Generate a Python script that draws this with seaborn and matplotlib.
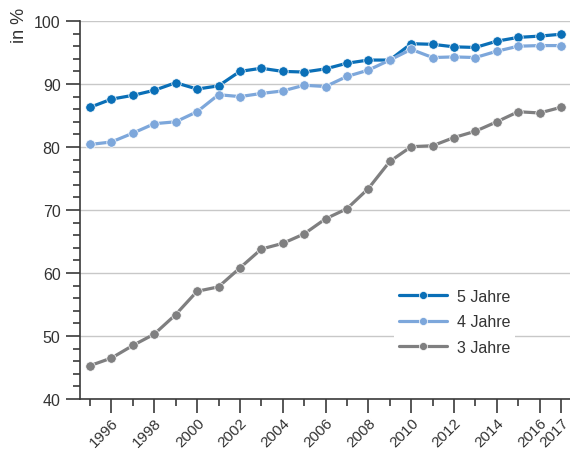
import matplotlib
matplotlib.use("Agg")
import matplotlib.pyplot as plt
import matplotlib.ticker as mticker
import seaborn as sns
import pandas as pd

years = list(range(1995, 2018))
jahre5 = [86.3, 87.6, 88.2, 89.0, 90.2, 89.2, 89.7, 92.0, 92.5, 92.0, 91.9, 92.4,
          93.3, 93.8, 93.8, 96.4, 96.3, 95.9, 95.8, 96.8, 97.4, 97.6, 97.9]
jahre4 = [80.4, 80.8, 82.2, 83.7, 84.0, 85.6, 88.3, 88.0, 88.5, 88.9, 89.8, 89.6,
          91.2, 92.2, 93.8, 95.5, 94.2, 94.3, 94.2, 95.2, 96.0, 96.1, 96.1]
jahre3 = [45.3, 46.5, 48.5, 50.3, 53.4, 57.1, 57.8, 60.8, 63.8, 64.7, 66.2, 68.6,
          70.2, 73.4, 77.7, 80.05, 80.2, 81.5, 82.5, 84.0, 85.6, 85.4, 86.3]
series_names = ["5 Jahre", "4 Jahre", "3 Jahre"]
xtick_labels = [str(y) for y in range(1996, 2017, 2)] + ["2017"]
xtick_pos = list(range(1996, 2017, 2)) + [2017]

df = pd.DataFrame({
    "Jahr": years * 3,
    "Wert": jahre5 + jahre4 + jahre3,
    "Serie": [series_names[0]] * len(years) + [series_names[1]] * len(years) + [series_names[2]] * len(years),
})

sns.set_style("white")
plt.rcParams['font.family'] = ['Liberation Sans Narrow', 'Liberation Sans', 'DejaVu Sans']

fig = plt.figure(figsize=(5.7, 4.52), dpi=100)
ax = fig.add_axes([80/570, 1 - 400/452, 1 - 80/570, (400 - 22)/452])

palette = {"5 Jahre": "#0a6fb7", "4 Jahre": "#7da7db", "3 Jahre": "#7f7f80"}
sns.lineplot(data=df, x="Jahr", y="Wert", hue="Serie", palette=palette, marker="o",
             markersize=6.8, markeredgecolor="white", markeredgewidth=0.5,
             linewidth=2.3, ax=ax, zorder=3)

ax.set_xlim(1994.53, 2017.42)
ax.set_ylim(40, 100)
ax.set_yticks(range(40, 101, 10))
ax.yaxis.set_minor_locator(mticker.MultipleLocator(2))
ax.set_xticks(xtick_pos)
ax.set_xticklabels(xtick_labels, rotation=45, ha="right", va="top", rotation_mode="anchor")
ax.set_xticks([y for y in years if y not in xtick_pos], minor=True)
ax.set_xlabel("")
ax.set_ylabel("")

for side in ["top", "right"]:
    ax.spines[side].set_visible(False)
for side in ["left", "bottom"]:
    ax.spines[side].set_color("#3a3a3a")
    ax.spines[side].set_linewidth(1.2)

ax.grid(axis="y", which="major", color="#c8c8c8", linewidth=1.0, zorder=0)
ax.set_axisbelow(True)
ax.tick_params(axis="both", which="major", direction="out", length=10, width=1.2,
               color="#3a3a3a", labelcolor="#333333", labelsize=11.5, left=True, bottom=True)
ax.tick_params(axis="both", which="minor", direction="out", length=5, width=1.2,
               color="#3a3a3a", left=True, bottom=True)
ax.tick_params(axis="x", which="major", pad=1.5, labelsize=11)
ax.tick_params(axis="y", which="major", pad=4)

handles, labels = ax.get_legend_handles_labels()
leg = ax.legend(handles, labels, loc="upper left", bbox_to_anchor=(0.625, 0.325),
                frameon=True, fontsize=11.5, handlelength=3.0, handletextpad=0.6,
                labelspacing=0.65, borderpad=0.3, markerscale=0.85)
leg.get_frame().set_facecolor("white")
leg.get_frame().set_edgecolor("none")
leg.get_frame().set_alpha(1)
for t in leg.get_texts():
    t.set_color("#333333")

fig.text(19/570, 1 - 25/452, "in %", rotation=90, ha="center", va="center",
         fontsize=13, color="#333333")

fig.savefig("out.png", dpi=100)
